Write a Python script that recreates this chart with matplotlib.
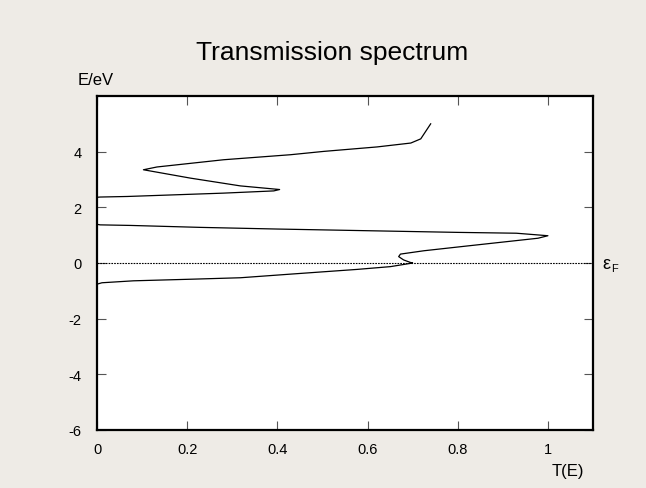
import matplotlib
matplotlib.use("Agg")
import matplotlib.pyplot as plt

plt.rcParams['font.family'] = ['Liberation Sans', 'DejaVu Sans']
plt.rcParams['axes.unicode_minus'] = False

# Energy (eV) and transmission T(E)
energy = [-6.0, -0.76, -0.71, -0.64, -0.58, -0.53, -0.40, -0.23, -0.13, 0.0,
          0.02, 0.11, 0.23, 0.32, 0.44, 0.61, 0.89, 0.98, 1.07, 1.10, 1.16,
          1.22, 1.28, 1.35, 1.37, 1.39, 2.36, 2.37, 2.39, 2.51, 2.59, 2.64,
          2.77, 3.05, 3.35, 3.45, 3.71, 3.89, 4.01, 4.17, 4.31, 4.46, 4.73, 5.0]
trans = [0.0, 0.0, 0.011, 0.081, 0.214, 0.318, 0.429, 0.577, 0.651, 0.70,
         0.695, 0.68, 0.669, 0.673, 0.725, 0.82, 0.978, 1.0, 0.93, 0.80, 0.60,
         0.40, 0.229, 0.074, 0.007, 0.0, 0.0, 0.007, 0.067, 0.28, 0.392, 0.405,
         0.318, 0.207, 0.103, 0.133, 0.281, 0.429, 0.503, 0.621, 0.696, 0.718, 0.729, 0.74]

x_ticks = [0, 0.2, 0.4, 0.6, 0.8, 1]
x_tick_labels = ['0', '0.2', '0.4', '0.6', '0.8', '1']
y_ticks = [-6, -4, -2, 0, 2, 4]
fermi_level = 0.0

bg = '#EEEBE6'
fig = plt.figure(figsize=(6.46, 4.89), dpi=100, facecolor=bg)
ax = fig.add_axes([97/646, 1-431/489, (593-97)/646, (431-97)/489])
ax.set_facecolor('white')

ax.plot(trans, energy, color='black', lw=0.9)
ax.axhline(fermi_level, color='black', lw=0.8, ls=(0, (1.5, 1)))

ax.set_xlim(0, 1.1)
ax.set_ylim(-6, 6)
ax.set_xticks(x_ticks)
ax.set_xticklabels(x_tick_labels)
ax.set_yticks(y_ticks)

for s in ax.spines.values():
    s.set_linewidth(1.6)
    s.set_color('black')
ax.tick_params(direction='in', length=6.5, width=0.8, color='#555555',
               top=True, right=True, labelsize=10.5, pad=9)
ax.tick_params(axis='y', pad=11)

fig.text(332/646, 1-60/489, 'Transmission spectrum', fontsize=19,
         ha='center', va='baseline')
fig.text(78/646, 1-85/489, 'E/eV', fontsize=12, ha='left', va='baseline')
fig.text(552/646, 1-476/489, 'T(E)', fontsize=12, ha='left', va='baseline')
fig.text(602/646, 1-269/489, 'ε', fontsize=13, ha='left', va='baseline')
fig.text(611/646, 1-272/489, 'F', fontsize=8, ha='left', va='baseline')

fig.savefig('out.png', dpi=100, facecolor=bg)
